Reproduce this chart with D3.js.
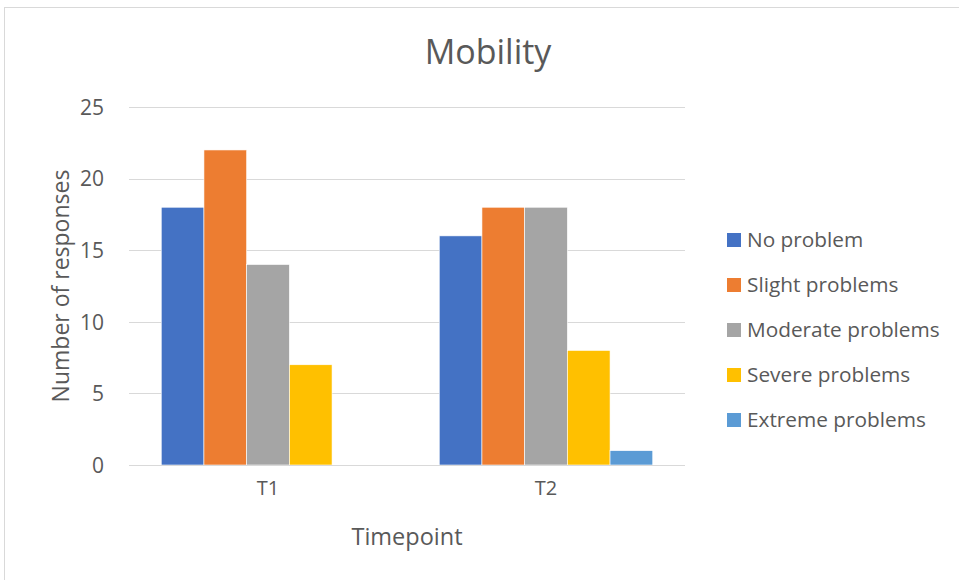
<!DOCTYPE html>
<html>
<head>
<meta charset="utf-8">
<script src="https://cdn.jsdelivr.net/npm/d3@7"></script>
<style>
  html, body { margin: 0; padding: 0; background: #fff; }
  svg text { font-family: "Open Sans", sans-serif; fill: #595959; }
</style>
</head>
<body>
<svg id="chart" width="959" height="580"></svg>
<script>
// Survey responses per mobility level at each timepoint
const timepoints = ["T1", "T2"];
const seriesNames = ["No problem", "Slight problems", "Moderate problems", "Severe problems", "Extreme problems"];
const noProblem = [18, 16];
const slightProblems = [22, 18];
const moderateProblems = [14, 18];
const severeProblems = [7, 8];
const extremeProblems = [0, 1];
const yTicks = [0, 5, 10, 15, 20, 25];
const colors = ["#4472C4", "#ED7D31", "#A5A5A5", "#FFC000", "#5B9BD5"];

const seriesValues = [noProblem, slightProblems, moderateProblems, severeProblems, extremeProblems];
const table = timepoints.map((t, i) => ({
  timepoint: t,
  values: seriesNames.map((s, j) => ({ series: s, value: seriesValues[j][i] }))
}));

const svg = d3.select("#chart");

// chart frame
svg.append("rect")
  .attr("x", 4.5).attr("y", 7.5)
  .attr("width", 1000).attr("height", 1000)
  .attr("fill", "none").attr("stroke", "#d9d9d9").attr("stroke-width", 1);

const plot = { left: 129, right: 685, top: 107, bottom: 465 };

const y = d3.scaleLinear().domain([0, 25]).range([plot.bottom, plot.top]);
const x0 = d3.scaleBand().domain(timepoints)
  .range([plot.left, plot.right]).paddingInner(0.232).paddingOuter(0.116);
const x1 = d3.scaleBand().domain(seriesNames).range([0, x0.bandwidth()]);
const color = d3.scaleOrdinal().domain(seriesNames).range(colors);

// gridlines
svg.append("g").selectAll("line").data(yTicks).join("line")
  .attr("x1", plot.left).attr("x2", plot.right)
  .attr("y1", d => Math.round(y(d)) + 0.5).attr("y2", d => Math.round(y(d)) + 0.5)
  .attr("stroke", "#d9d9d9").attr("stroke-width", 1);

// y axis labels
const yAxis = d3.axisLeft(y).tickValues(yTicks).tickSize(0).tickPadding(0);
const gy = svg.append("g").attr("transform", `translate(${104},0)`).call(yAxis)
  .attr("font-size", 21).attr("font-family", null);
gy.select(".domain").remove();
gy.selectAll("text").attr("fill", "#595959").attr("dy", "0.35em");

// bars
const groups = svg.append("g").selectAll("g").data(table).join("g")
  .attr("transform", d => `translate(${x0(d.timepoint)},0)`);
groups.selectAll("rect").data(d => d.values).join("rect")
  .attr("x", d => x1(d.series))
  .attr("width", x1.bandwidth())
  .attr("y", d => y(d.value))
  .attr("height", d => y(0) - y(d.value))
  .attr("fill", d => color(d.series))
  .attr("stroke", "#fff").attr("stroke-width", 0.6);

// baseline
svg.append("line")
  .attr("x1", plot.left).attr("x2", plot.right)
  .attr("y1", y(0) + 0.5).attr("y2", y(0) + 0.5)
  .attr("stroke", "#d9d9d9").attr("stroke-width", 1);

// x axis labels
const xAxis = d3.axisBottom(x0).tickSize(0).tickPadding(0);
const gx = svg.append("g").attr("transform", `translate(0,${plot.bottom})`).call(xAxis)
  .attr("font-size", 20).attr("font-family", null);
gx.select(".domain").remove();
gx.selectAll("text").attr("fill", "#595959").attr("y", 30).attr("dy", 0);

// titles
svg.append("text").attr("x", 488).attr("y", 64).attr("text-anchor", "middle")
  .style("font-size", "34px").text("Mobility");
svg.append("text").attr("x", 407).attr("y", 545).attr("text-anchor", "middle")
  .style("font-size", "23.5px").text("Timepoint");
svg.append("text")
  .attr("transform", `translate(69,286) rotate(-90)`)
  .attr("text-anchor", "middle")
  .style("font-size", "23px").text("Number of responses");

// legend
const legend = svg.append("g").selectAll("g").data(seriesNames).join("g")
  .attr("transform", (d, i) => `translate(727,${240 + i * 45})`);
legend.append("rect").attr("x", 0).attr("y", -7).attr("width", 14).attr("height", 14)
  .attr("fill", d => color(d));
legend.append("text").attr("x", 20).attr("y", 0).attr("dy", "0.35em")
  .style("font-size", "20.8px").text(d => d);
</script>
</body>
</html>
